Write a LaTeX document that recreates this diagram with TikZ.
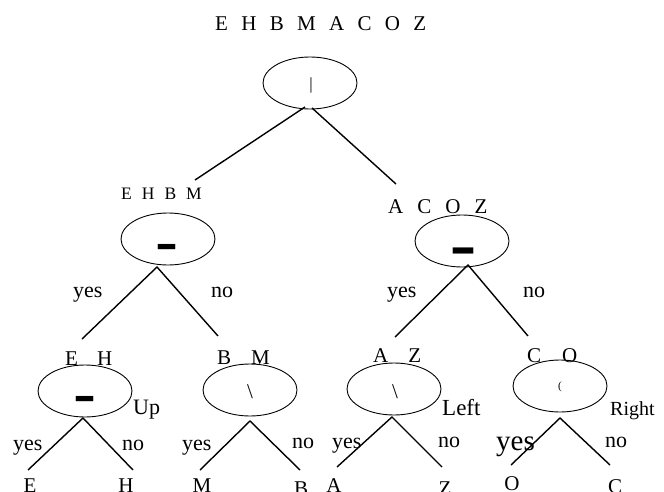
\documentclass[tikz,border=0pt]{standalone}
\usepackage{fontspec}
\setmainfont{Liberation Serif}
\usepackage{graphicx}
\usetikzlibrary{shapes.geometric}
\newcommand\thickdash[1]{\scalebox{1}[2.2]{\fontsize{#1pt}{#1pt}\selectfont\bfseries –}}
\newcommand\wsp[1]{\spaceskip=#1pt\relax}
\tikzset{
  oval/.style={draw, ellipse, minimum width=94pt, minimum height=52pt, inner sep=0pt, line width=0.9pt},
  edge/.style={line width=1.4pt},
  lbl/.style={anchor=base west, inner sep=0pt},
  leaf/.style={anchor=base, inner sep=0pt, font=\fontsize{21pt}{21pt}\selectfont},
  sym/.style={inner sep=0pt},
  txt/.style={font=\fontsize{#1pt}{#1pt}\selectfont},
}
\begin{document}
\begin{tikzpicture}[x=1pt,y=-1pt]
\useasboundingbox (0,0) rectangle (664,492);

% ---- set labels
\node[lbl, txt=21] (tall) at (215,31) {\wsp{13.3}E H B M A C O Z};
\node[lbl, txt=17.5] (tehbm) at (121,200) {\wsp{10}E H B M};
\node[lbl, txt=21] (tacoz) at (388,213) {\wsp{14}A C O Z};
\node[lbl, txt=21] (teh) at (65,365) {\wsp{19}E H};
\node[lbl, txt=21] (tbm) at (217,364) {\wsp{20}B M};
\node[lbl, txt=21] (taz) at (373,362) {\wsp{20}A Z};
\node[lbl, txt=21] (tco) at (527,362) {\wsp{21}C O};

% ---- ovals
\node[oval] (root) at (310,83) {};
\node[oval] (L) at (168,239) {};
\node[oval] (R) at (462,241) {};
\node[oval] (LL) at (85,391) {};
\node[oval] (LR) at (250,390) {};
\node[oval] (RL) at (394,389) {};
\node[oval] (RR) at (560,386) {};

% ---- oval contents
\node[sym, txt=17] (rootsym) at (311,85) {|};
\node[sym] (Lsym) at (167,254) {\thickdash{34}};
\node[sym] (Rsym) at (463,260) {\thickdash{40}};
\node[sym] (LLsym) at (85,406) {\thickdash{34}};
\node[sym, txt=21] (LRsym) at (250,392) {\textbackslash};
\node[sym, txt=21] (RLsym) at (395,392) {\textbackslash};
\node[sym, txt=11] (RRsym) at (560,387) {(};

% ---- side labels
\node[lbl, txt=22] (up) at (133,414) {Up};
\node[lbl, txt=23] (left) at (442,415) {Left};
\node[lbl, txt=20] (right) at (610,415) {Right};

% ---- yes / no
\node[lbl, txt=22] (y1) at (73,297) {yes};
\node[lbl, txt=22] (n1) at (211,297) {no};
\node[lbl, txt=22] (y2) at (387,297) {yes};
\node[lbl, txt=22] (n2) at (523,297) {no};
\node[lbl, txt=22] (y3) at (13,450) {yes};
\node[lbl, txt=22] (n3) at (122,450) {no};
\node[lbl, txt=22] (y4) at (182,450) {yes};
\node[lbl, txt=22] (n4) at (292,448) {no};
\node[lbl, txt=22] (y5) at (332,448) {yes};
\node[lbl, txt=22] (n5) at (438,447) {no};
\node[lbl, txt=29] (y6) at (496,450) {yes};
\node[lbl, txt=22] (n6) at (605,447) {no};

% ---- leaves
\node[leaf] (lE) at (30,492) {E};
\node[leaf] (lH) at (126,492) {H};
\node[leaf] (lM) at (202,492) {M};
\node[leaf] (lB) at (301,495) {B};
\node[leaf] (lA) at (334,492) {A};
\node[leaf] (lZ) at (445,495) {Z};
\node[leaf] (lO) at (512,490) {O};
\node[leaf] (lC) at (615,493) {C};

% ---- connector coordinates
\coordinate (rootF1) at (305,107);
\coordinate (rootF2) at (312,108);
\coordinate (rootA) at (195,180);
\coordinate (rootB) at (396,184);
\coordinate (LF) at (157,267);
\coordinate (LA) at (82,339);
\coordinate (LB) at (218,336);
\coordinate (RF) at (468,265);
\coordinate (RA) at (395,337);
\coordinate (RB) at (528,336);
\coordinate (LLF) at (83,418);
\coordinate (LLA) at (28,470);
\coordinate (LLB) at (133,470);
\coordinate (LRF) at (250,421);
\coordinate (LRA) at (200,470);
\coordinate (LRB) at (300,470);
\coordinate (RLF) at (392,417);
\coordinate (RLA) at (337,467);
\coordinate (RLB) at (442,467);
\coordinate (RRF) at (560,418);
\coordinate (RRA) at (511,465);
\coordinate (RRB) at (610,465);

\draw[edge] (rootF1) -- (rootA);
\draw[edge] (rootF2) -- (rootB);
\draw[edge] (LA) -- (LF) -- (LB);
\draw[edge] (RA) -- (RF) -- (RB);
\draw[edge] (LLA) -- (LLF) -- (LLB);
\draw[edge] (LRA) -- (LRF) -- (LRB);
\draw[edge] (RLA) -- (RLF) -- (RLB);
\draw[edge] (RRA) -- (RRF) -- (RRB);
\end{tikzpicture}
\end{document}
